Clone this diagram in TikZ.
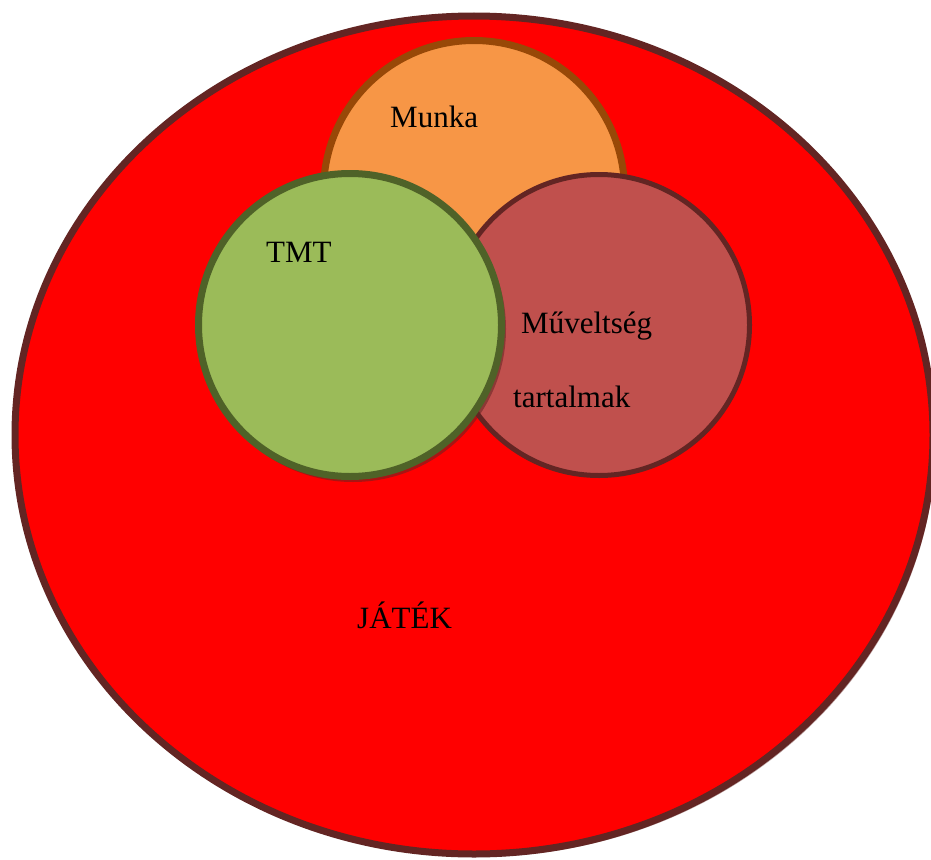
\documentclass[tikz,border=0pt]{standalone}
\usepackage{fontspec}
\setmainfont{Liberation Serif}
\usepackage{tikz}

\definecolor{jatekfill}{RGB}{255,0,0}
\definecolor{jatekline}{RGB}{99,37,35}
\definecolor{munkafill}{RGB}{247,150,70}
\definecolor{munkaline}{RGB}{152,72,7}
\definecolor{tmtfill}{RGB}{155,187,89}
\definecolor{tmtline}{RGB}{79,98,40}
\definecolor{muvfill}{RGB}{192,80,77}
\definecolor{muvline}{RGB}{99,37,35}

\begin{document}
\begin{tikzpicture}[x=1pt, y=-1pt,
	label/.style={anchor=base west, inner sep=0pt, font=\fontsize{31}{37}\selectfont}]
% canvas
	\useasboundingbox (0,0) rectangle (931,859);

% big ellipse with its shadow
	\fill[jatekline, opacity=.45] (477,438) ellipse (459 and 419);
	\draw[line width=7pt, color=jatekline, fill=jatekfill] (474,435) ellipse (459 and 419);

% small circles
	\draw[line width=7pt, color=munkaline, fill=munkafill] (474,191) circle (150.5);
	\draw[line width=5pt, color=muvline, fill=muvfill] (599,325) circle (150.5);
	\fill[jatekline, opacity=.55] (353,329) circle (153);
	\draw[line width=7pt, color=tmtline, fill=tmtfill] (350,325) circle (151.5);

% labels
	\node[label] (munka) at (390,127) {Munka};
	\node[label] (tmt) at (266,262) {TMT};
	\node[label] (muv) at (521,333) {Műveltség};
	\node[label] (tart) at (513,407) {tartalmak};
	\node[label] (jatek) at (357,628) {JÁTÉK};
\end{tikzpicture}
\end{document}
